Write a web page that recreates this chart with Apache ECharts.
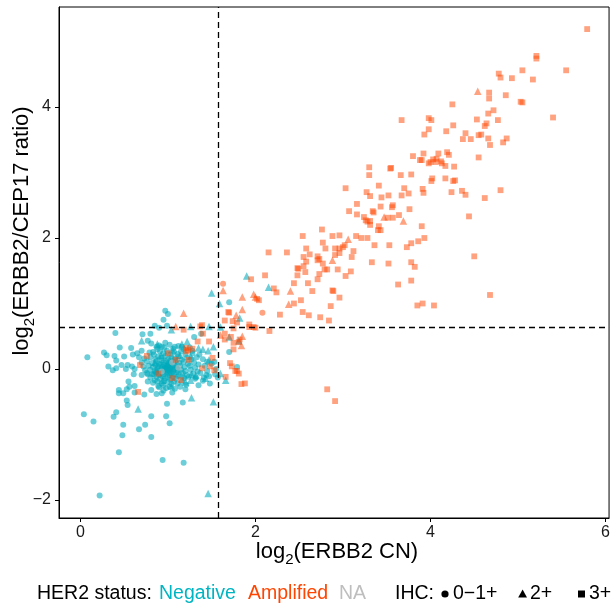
<!DOCTYPE html>
<html>
<head>
<meta charset="utf-8">
<script src="https://cdn.jsdelivr.net/npm/echarts@6/dist/echarts.min.js"></script>
<style>
  html, body { margin: 0; padding: 0; background: #fff; }
  #chart { width: 613px; height: 606px; }
</style>
</head>
<body>
<div id="chart"></div>
<script>
// tick labels / cut-offs
var xTicks = [0, 2, 4, 6];
var yTicks = [-2, 0, 2, 4];
var xCut = 1.585;
var yCut = 0.63;

// HER2 negative, IHC 0-1+
var negCircle = [
  [1.70,1.02],[0.97,0.89],[1.00,0.84],[0.80,0.54],[0.90,0.63],[1.30,0.49],[1.38,0.54],
  [0.81,0.39],[0.87,0.34],[0.83,0.26],[0.97,0.40],[1.08,0.34],[1.16,0.34],[1.70,0.26],
  [1.40,0.15],[1.45,0.11],[1.53,0.11],[1.79,0.03],[1.32,-0.13],[1.41,-0.13],[1.57,-0.13],
  [0.95,0.75],[0.85,0.66],[0.99,0.66],[0.40,0.55],[0.71,0.53],[0.77,0.43],[0.45,0.33],
  [0.58,0.32],[0.27,0.25],[0.30,0.21],[0.08,0.18],[0.60,0.22],[0.65,0.24],[0.70,0.28],
  [0.39,0.20],[0.41,0.13],[0.50,0.19],[0.32,0.04],[0.37,-0.02],[0.41,0.01],[0.47,0.06],
  [0.54,0.06],[0.52,0.00],[0.59,0.04],[0.62,0.00],[0.61,-0.08],[0.70,-0.09],[0.77,-0.08],
  [0.84,-0.08],[0.55,-0.19],[0.44,-0.32],[0.49,-0.37],[0.56,-0.27],[0.62,-0.26],[0.53,-0.31],
  [0.77,-0.19],[0.85,-0.17],[0.89,-0.26],[0.81,-0.32],[0.93,-0.37],[0.44,-0.37],[0.62,-0.36],
  [0.73,-0.39],[0.87,-0.38],[0.53,-0.48],[0.54,-0.55],[0.99,-0.53],[1.17,-0.51],[0.04,-0.69],
  [0.15,-0.80],[0.41,-0.66],[0.38,-0.73],[0.81,-0.72],[0.98,-0.72],[0.49,-0.85],[0.74,-0.85],
  [0.67,-0.92],[1.02,-0.83],[0.48,-1.01],[0.81,-1.04],[0.44,-1.27],[0.94,-1.39],[1.18,-1.43],
  [0.22,-1.93],[0.93,0.34],
  // dense cluster round (1, 0)
  [0.90,0.36],[0.96,0.33],[1.02,0.37],[1.06,0.31],[1.12,0.35],[0.88,0.30],[1.18,0.30],[1.25,0.33],
  [0.84,0.22],[0.91,0.27],[0.95,0.24],[0.99,0.28],[1.03,0.22],[1.07,0.26],[1.11,0.23],[1.15,0.27],
  [1.20,0.22],[1.28,0.24],[0.79,0.25],[0.73,0.16],[0.80,0.18],[0.86,0.15],[0.89,0.19],[0.93,0.17],
  [0.97,0.20],[1.00,0.15],[1.04,0.18],[1.08,0.16],[1.12,0.19],[1.16,0.14],[1.22,0.17],[1.27,0.15],
  [1.33,0.18],[0.67,0.18],[0.70,0.10],[0.76,0.12],[0.82,0.09],[0.87,0.12],[0.90,0.08],[0.93,0.13],
  [0.95,0.10],[0.98,0.12],[1.01,0.09],[1.03,0.13],[1.06,0.10],[1.09,0.12],[1.13,0.09],[1.18,0.11],
  [1.23,0.08],[1.30,0.10],[1.35,0.07],[0.72,0.04],[0.78,0.05],[0.83,0.03],[0.86,0.06],[0.89,0.04],
  [0.92,0.07],[0.94,0.03],[0.96,0.06],[0.97,0.02],[0.99,0.05],[1.00,0.03],[1.01,0.07],[1.02,0.01],
  [1.03,0.05],[1.05,0.03],[1.07,0.06],[1.10,0.02],[1.14,0.05],[1.19,0.03],[1.25,0.05],[1.31,0.02],
  [0.98,0.00],[1.00,0.01],[0.99,0.03],[1.01,0.04],[1.00,0.06],[0.74,-0.02],[0.80,-0.01],[0.85,-0.03],
  [0.88,0.00],[0.91,-0.02],[0.93,0.01],[0.95,-0.01],[0.97,-0.03],[0.99,-0.01],[1.01,-0.02],[1.02,-0.04],
  [1.04,-0.01],[1.06,-0.03],[1.08,0.00],[1.11,-0.02],[1.15,-0.01],[1.20,-0.03],[1.26,-0.01],[1.34,-0.04],
  [0.96,0.00],[1.03,0.00],[0.76,-0.06],[0.82,-0.08],[0.86,-0.05],[0.90,-0.09],[0.92,-0.06],[0.95,-0.08],
  [0.98,-0.05],[1.00,-0.07],[1.02,-0.09],[1.04,-0.06],[1.07,-0.08],[1.10,-0.05],[1.13,-0.09],[1.17,-0.06],
  [1.22,-0.09],[1.29,-0.07],[1.37,-0.06],[1.44,-0.09],[0.80,-0.13],[0.87,-0.12],[0.91,-0.15],[0.94,-0.11],
  [0.97,-0.14],[1.00,-0.12],[1.03,-0.16],[1.06,-0.12],[1.09,-0.15],[1.12,-0.11],[1.19,-0.14],[1.24,-0.12],
  [1.31,-0.15],[1.47,-0.11],[1.54,-0.08],[0.83,-0.21],[0.88,-0.19],[0.93,-0.22],[0.96,-0.18],[1.00,-0.20],
  [1.04,-0.23],[1.07,-0.19],[1.11,-0.22],[1.16,-0.19],[1.21,-0.24],[0.95,-0.25],[0.90,-0.28],[0.98,-0.29],
  [1.02,-0.27],[1.08,-0.30],[1.14,-0.27],[0.95,-0.33],[1.05,-0.36],[1.20,-0.31],[1.28,0.28],[1.36,0.22],
  [1.42,0.05],[1.45,-0.03],[1.50,0.08],[1.40,-0.18],[1.35,-0.25],[1.48,-0.22],[1.55,0.00]
];
// HER2 negative, IHC 2+
var negTriangle = [
  [1.90,1.42],[2.15,1.25],[1.82,0.78],[1.70,0.49],[1.81,0.43],[1.59,1.00],[1.26,0.65],[1.47,0.65],
  [1.60,0.64],[1.35,0.32],[1.46,0.28],[1.52,0.34],[1.60,-0.07],[1.66,-0.17],[1.27,-0.08],[1.26,-0.17],
  [1.27,-0.44],[1.50,1.16],[1.04,0.60],[0.70,0.43],[0.88,0.38],[0.66,-0.61],[1.52,-0.50],[1.46,-1.90],
  [0.92,0.21],[1.05,0.29],[1.14,0.21],[0.87,-0.01],[1.09,0.07],[1.18,-0.10],[0.94,-0.17],[1.04,-0.26],
  [1.26,0.20],[1.32,-0.10],[1.16,0.38],[0.85,0.10],[1.40,0.30],[1.43,-0.14],[1.20,-0.20],[1.22,0.42],
  [1.47,0.14]
];
// HER2 status NA
var naCircle = [[1.05,0.10],[0.93,-0.04],[1.12,0.02]];

// HER2 amplified, IHC 0-1+
var ampCircle = [[1.63,1.30],[2.08,0.86]];
// HER2 amplified, IHC 2+
var ampTriangle = [
  [4.54,4.24],[3.69,2.26],[3.47,2.32],[3.06,1.98],[2.88,1.66],[2.40,1.19],[1.85,1.10],[1.98,1.14],
  [2.00,1.10],[2.38,0.99],[1.63,1.20],[1.85,0.91],[1.85,0.50],[1.84,0.36],[1.18,0.85],[1.78,0.82],
  [1.09,0.65],[1.60,0.52]
];
// HER2 amplified, IHC 3+
var ampSquare = [
  [5.79,5.19],[5.21,4.78],[5.21,4.74],[4.78,4.51],[4.80,4.45],[5.05,4.56],[5.55,4.56],[4.93,4.44],
  [5.17,4.42],[4.67,4.22],[4.67,4.13],[4.86,4.18],[5.03,4.08],[5.05,4.07],[4.25,4.04],[4.66,3.90],
  [4.72,3.95],[5.40,3.84],[3.67,3.80],[3.98,3.83],[4.01,3.80],[4.53,3.81],[4.77,3.80],[4.64,3.75],
  [4.62,3.71],[4.26,3.72],[3.98,3.66],[4.18,3.63],[3.93,3.58],[4.40,3.60],[4.55,3.57],[4.58,3.58],
  [4.37,3.51],[4.46,3.51],[4.66,3.52],[4.87,3.52],[4.83,3.46],[4.68,3.42],[3.80,3.25],[3.92,3.29],
  [4.09,3.29],[4.19,3.31],[4.21,3.27],[3.90,3.19],[3.88,3.19],[3.98,3.14],[4.00,3.16],[4.03,3.20],
  [4.07,3.21],[4.06,3.16],[4.12,3.17],[4.13,3.14],[4.17,3.10],[4.27,3.09],[4.55,3.23],[3.66,2.96],
  [3.78,2.97],[4.02,2.91],[4.01,2.87],[4.17,2.91],[4.26,2.87],[4.28,2.88],[3.70,2.76],[3.67,2.65],
  [3.75,2.68],[3.91,2.75],[3.92,2.69],[4.24,2.70],[4.36,2.72],[4.40,2.66],[4.80,2.73],[4.62,2.61],
  [3.76,2.44],[3.64,2.35],[4.44,2.33],[3.90,2.18],[3.86,1.95],[3.93,2.00],[3.78,1.92],[3.73,1.86],
  [4.50,1.72],[3.78,1.63],[3.82,1.56],[3.78,1.35],[3.63,1.29],[4.68,1.13],[3.85,0.97],[3.91,1.00],
  [4.04,0.97],
  [3.30,3.08],[3.30,2.96],[3.54,3.06],[3.55,3.07],[3.41,2.80],[3.03,2.76],[3.27,2.70],[3.31,2.64],
  [3.44,2.62],[3.52,2.65],[3.16,2.52],[3.43,2.48],[3.56,2.47],[3.57,2.50],[3.07,2.41],[3.34,2.41],
  [3.35,2.39],[3.16,2.36],[3.24,2.32],[3.26,2.27],[3.28,2.25],[3.31,2.26],[3.51,2.31],[3.57,2.31],
  [3.41,2.18],[3.43,2.12],[3.40,2.12],[3.31,2.20],[2.76,2.13],[2.54,2.03],[2.88,2.03],[2.96,2.04],
  [3.15,2.03],[3.21,2.00],[3.28,2.00],[2.77,1.93],[3.36,1.89],[3.53,1.89],[3.02,1.89],[3.00,1.86],
  [2.96,1.84],[2.58,1.84],[2.80,1.84],[2.91,1.84],[3.12,1.80],[2.15,1.78],[2.36,1.78],[2.62,1.75],
  [2.91,1.74],[2.96,1.77],[2.55,1.71],[2.55,1.57],[2.71,1.72],[2.71,1.66],[2.73,1.68],[3.10,1.71],
  [2.58,1.64],[2.77,1.61],[2.48,1.54],[2.49,1.53],[2.57,1.48],[2.79,1.52],[2.82,1.52],[2.94,1.52],
  [3.09,1.49],[3.33,1.63],[3.52,1.61],[2.48,1.43],[2.73,1.45],[3.03,1.42],[2.11,1.43],[1.95,1.37],
  [2.44,1.31],[2.60,1.31],[2.71,1.37],[2.21,1.23],[2.24,1.17],[2.65,1.19],[2.88,1.20],[2.89,1.19],
  [2.96,1.09],[2.04,1.05],[2.02,1.07],[2.52,1.05],[2.44,1.00],[2.86,0.96],[2.28,0.83],[2.54,0.87],
  [2.61,0.82],[2.74,0.79],[2.84,0.74],[1.70,0.86],[1.74,0.73],[1.79,0.71],[1.93,0.68],[1.75,0.62],
  [1.93,0.64],[1.98,0.64],[2.00,0.63],[2.16,0.58],[1.65,0.74],[1.65,0.45],[1.75,0.30],
  [1.81,-0.07],[1.84,-0.23],[1.88,-0.22],[2.82,-0.31],[2.91,-0.49],
  [1.69,0.87],[1.39,0.67],[1.37,0.65],[1.18,0.60],[1.40,0.54],[1.65,0.54],[1.72,0.49],[1.75,0.40],
  [1.82,0.45],[1.81,0.41],[1.21,0.32],[1.28,0.31],[1.39,0.01],[1.48,0.04],[1.53,-0.02],[1.71,0.09],
  [1.73,0.04],[1.77,-0.03],[1.79,-0.03],[1.66,-0.12],[1.15,-0.17],[0.76,0.20],[0.68,0.06],[0.89,-0.07],
  [0.66,-0.35],[1.00,0.24],[1.09,0.14],[1.05,-0.14],[1.24,0.14],[1.21,0.27],[1.23,0.29],[1.34,0.42],
  [1.47,0.42],[1.51,0.17]
];

var cyan = '#00AABB';
var orange = '#FF4500';
var grey = '#BEBEBE';
var font = 'Liberation Sans, Arial, sans-serif';

function pts(name, data, symbol, size, color, opacity) {
  return {
    name: name,
    type: 'scatter',
    data: data,
    symbol: symbol,
    symbolSize: size,
    silent: true,
    itemStyle: { color: color, opacity: opacity }
  };
}

function minus(v) {
  return String(v).replace('-', '\u2212');
}

var chart = echarts.init(document.getElementById('chart'));

var option = {
  animation: false,
  backgroundColor: '#fff',
  grid: {
    left: 59, right: 1, top: 7, bottom: 88,
    show: true, borderColor: '#000', borderWidth: 1
  },
  xAxis: {
    type: 'value',
    min: -0.244,
    max: 6.04,
    splitLine: { show: false },
    axisLine: { show: true, onZero: false, lineStyle: { color: '#000', width: 1 } },
    axisTick: { show: true, customValues: xTicks, length: 4, lineStyle: { color: '#000' } },
    axisLabel: {
      customValues: xTicks, formatter: minus, margin: 7,
      fontSize: 16, color: '#1a1a1a', fontFamily: font
    }
  },
  yAxis: {
    type: 'value',
    min: -2.275,
    max: 5.527,
    splitLine: { show: false },
    axisLine: { show: true, onZero: false, lineStyle: { color: '#000', width: 1 } },
    axisTick: { show: true, customValues: yTicks, length: 4, lineStyle: { color: '#000' } },
    axisLabel: {
      customValues: yTicks, formatter: minus, margin: 8,
      fontSize: 16, color: '#1a1a1a', fontFamily: font
    }
  },
  series: [
    pts('negCircle', negCircle, 'circle', 6, cyan, 0.58),
    pts('negTriangle', negTriangle, 'triangle', 7.5, cyan, 0.58),
    pts('naCircle', naCircle, 'circle', 6, grey, 0.6),
    pts('ampCircle', ampCircle, 'circle', 6, orange, 0.5),
    pts('ampTriangle', ampTriangle, 'triangle', 7.5, orange, 0.5),
    pts('ampSquare', ampSquare, 'rect', 5.8, orange, 0.5),
    {
      type: 'scatter',
      data: [],
      markLine: {
        silent: true,
        symbol: ['none', 'none'],
        label: { show: false },
        lineStyle: { color: '#000', type: [6, 4], width: 1.3, opacity: 1 },
        data: [{ xAxis: xCut }, { yAxis: yCut }]
      }
    }
  ],
  graphic: [
    // axis titles
    {
      type: 'text', x: 337, y: 552,
      style: {
        text: '{a|log}{s|2}{a|(ERBB2 CN)}',
        align: 'center', verticalAlign: 'middle',
        rich: {
          a: { fontSize: 22, fontFamily: font, fill: '#000', lineHeight: 30 },
          s: { fontSize: 15, fontFamily: font, fill: '#000', lineHeight: 15, verticalAlign: 'bottom' }
        }
      }
    },
    {
      type: 'text', x: 22, y: 231, rotation: Math.PI / 2,
      style: {
        text: '{a|log}{s|2}{a|(ERBB2/CEP17 ratio)}',
        align: 'center', verticalAlign: 'middle',
        rich: {
          a: { fontSize: 22, fontFamily: font, fill: '#000', lineHeight: 30 },
          s: { fontSize: 15, fontFamily: font, fill: '#000', lineHeight: 15, verticalAlign: 'bottom' }
        }
      }
    },
    // legend
    { type: 'text', x: 37, y: 594, style: { text: 'HER2 status:', fontSize: 19.5, fontFamily: font, fill: '#000', verticalAlign: 'middle' } },
    { type: 'text', x: 159, y: 594, style: { text: 'Negative', fontSize: 19.5, fontFamily: font, fill: '#00B5C2', verticalAlign: 'middle' } },
    { type: 'text', x: 248, y: 594, style: { text: 'Amplified', fontSize: 19.5, fontFamily: font, fill: orange, verticalAlign: 'middle' } },
    { type: 'text', x: 339, y: 594, style: { text: 'NA', fontSize: 19.5, fontFamily: font, fill: grey, verticalAlign: 'middle' } },
    { type: 'text', x: 395, y: 594, style: { text: 'IHC:', fontSize: 19.5, fontFamily: font, fill: '#000', verticalAlign: 'middle' } },
    { type: 'circle', shape: { cx: 445, cy: 594, r: 3.6 }, style: { fill: '#000' } },
    { type: 'text', x: 453, y: 594, style: { text: '0\u22121+', fontSize: 19.5, fontFamily: font, fill: '#000', verticalAlign: 'middle' } },
    { type: 'polygon', shape: { points: [[522.6, 589.5], [527, 597.5], [518.2, 597.5]] }, style: { fill: '#000' } },
    { type: 'text', x: 530, y: 594, style: { text: '2+', fontSize: 19.5, fontFamily: font, fill: '#000', verticalAlign: 'middle' } },
    { type: 'rect', shape: { x: 578, y: 590.5, width: 7, height: 7 }, style: { fill: '#000' } },
    { type: 'text', x: 589, y: 594, style: { text: '3+', fontSize: 19.5, fontFamily: font, fill: '#000', verticalAlign: 'middle' } }
  ]
};

chart.setOption(option);
</script>
</body>
</html>
